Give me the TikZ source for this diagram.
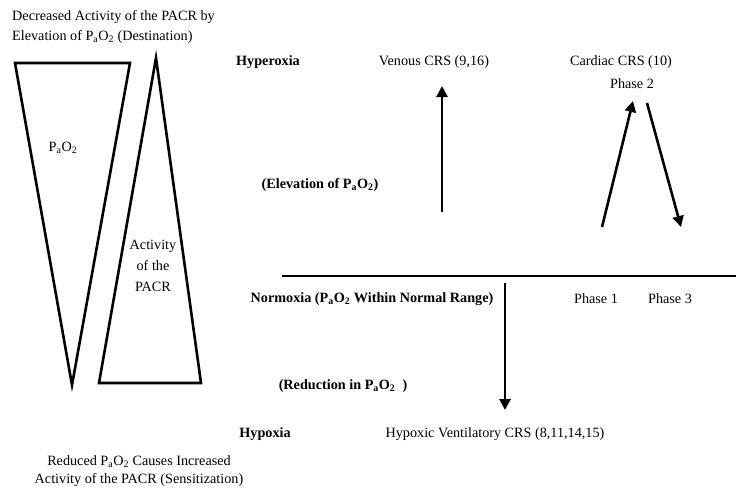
\documentclass[tikz,border=0pt]{standalone}
\usepackage{fontspec}
\setmainfont{Liberation Serif}
\usetikzlibrary{arrows.meta}
\newcommand{\paotwo}{P\textsubscript{a}O\textsubscript{2}}
\begin{document}
\begin{tikzpicture}[x=1pt,y=-1pt,
  lbl/.style={font=\fontsize{14.2}{16}\selectfont, inner sep=0pt, align=center},
  blbl/.style={lbl, font=\fontsize{14.2}{16}\selectfont\bfseries},
  tri/.style={line width=2.6pt, line join=miter},
  arr/.style={line width=2.6pt, -{Triangle[length=11pt,width=11pt]}},
  axis/.style={line width=1.2pt}]
\useasboundingbox (0,0) rectangle (736,488);
% triangles
\draw[tri] (15,63) -- (130,63) -- (72,385) -- cycle;
\draw[tri] (156,58) -- (201,383) -- (99,383) -- cycle;
% texts
\node[lbl, anchor=west, align=left] (top) at (12,27) {Decreased Activity of the PACR by\\[4pt]Elevation of \paotwo{} (Destination)};
\node[lbl] (pao) at (63,148) {\paotwo};
\node[lbl] (act) at (153,266) {Activity\\[5pt]of the\\[5pt]PACR};
\node[lbl] (bot) at (139,471) {Reduced \paotwo{} Causes Increased\\[2pt]Activity of the PACR (Sensitization)};
\node[blbl] (hyper) at (268,62) {Hyperoxia};
\node[lbl] (venous) at (434,62) {Venous CRS (9,16)};
\node[lbl] (cardiac) at (621,62) {Cardiac CRS (10)};
\node[lbl] (ph2) at (632,84) {Phase 2};
\node[blbl] (elev) at (320,185) {(Elevation of \paotwo)};
\node[blbl] (normo) at (372,299) {Normoxia (\paotwo{} Within Normal Range)};
\node[lbl] (ph1) at (596,299) {Phase 1};
\node[lbl] (ph3) at (670,299) {Phase 3};
\node[blbl] (red) at (343,386) {(Reduction in \paotwo\ \ )};
\node[blbl] (hypo) at (265,434) {Hypoxia};
\node[lbl] (hvcrs) at (495,434) {Hypoxic Ventilatory CRS (8,11,14,15)};
% axis line
\coordinate (l1) at (282,276);
\coordinate (l2) at (736,276);
\draw[axis] (l1) -- (l2);
% arrows
\coordinate (va) at (442,212);
\coordinate (vb) at (442,86);
\draw[arr] (va) -- (vb);
\coordinate (da) at (505,283);
\coordinate (db) at (505,410);
\draw[arr] (da) -- (db);
\coordinate (c1) at (602,227);
\coordinate (c2) at (633,101);
\draw[arr] (c1) -- (c2);
\coordinate (c3) at (647,103);
\coordinate (c4) at (681,227);
\draw[arr] (c3) -- (c4);
\end{tikzpicture}
\end{document}
